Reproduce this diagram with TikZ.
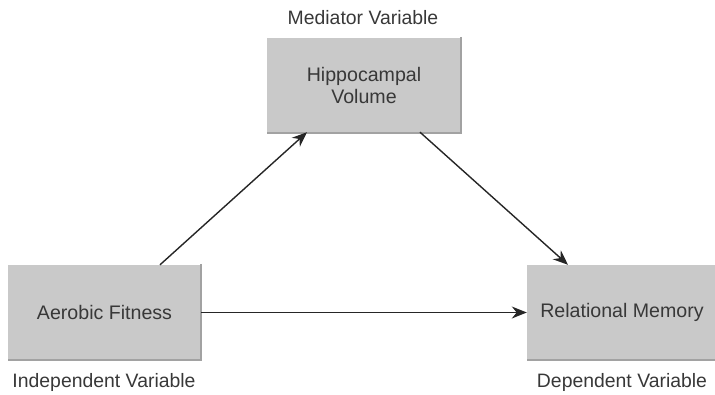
\documentclass[tikz,border=0pt]{standalone}
\usepackage{fontspec}
\setmainfont{Liberation Sans}
\usetikzlibrary{arrows.meta,calc}
\definecolor{boxfill}{HTML}{C9C9C9}
\definecolor{boxedge}{HTML}{A2A2A2}
\definecolor{txt}{HTML}{383838}
\definecolor{arr}{HTML}{262626}
\begin{document}
\begin{tikzpicture}[x=1pt,y=-1pt,
  varbox/.style={fill=boxfill,draw=none,inner sep=0pt,align=center,text=txt,
    font=\fontsize{19.6}{22}\selectfont},
  edgeline/.style={draw=boxedge,line width=1.6pt},
  lbl/.style={text=txt,font=\fontsize{19.4}{22}\selectfont,inner sep=0pt},
  conn/.style={draw=arr,line width=1.4pt,-{Stealth[length=15pt,width=12pt]}}]
\useasboundingbox (0,0) rectangle (715,394);
\node[varbox,minimum width=194pt,minimum height=95pt] (HV) at (364,85.5) {Hippocampal\\Volume};
\node[varbox,minimum width=193pt,minimum height=95pt] (AF) at (104.5,312.5) {Aerobic Fitness};
\node[varbox,minimum width=190pt,minimum height=95pt] (RM) at (622,312.5) {Relational Memory};
\foreach \b in {HV,AF,RM}{
  \draw[edgeline] ([yshift=1pt]\b.north east) -- (\b.south east) -- (\b.south west);
}
\node[lbl] (ML) at (363,18) {Mediator Variable};
\node[lbl] (IL) at (104,382) {Independent Variable};
\node[lbl] (DL) at (622,382) {Dependent Variable};
\coordinate (a1s) at ([xshift=55.5pt]AF.north);
\coordinate (a1e) at ([xshift=-57pt,yshift=1pt]HV.south);
\coordinate (a2s) at ([xshift=56pt,yshift=1pt]HV.south);
\coordinate (a2e) at ([xshift=-54pt]RM.north);
\draw[conn] (a1s) -- (a1e);
\draw[conn] (a2s) -- (a2e);
\draw[conn] (AF.east) -- (RM.west);
\end{tikzpicture}
\end{document}
